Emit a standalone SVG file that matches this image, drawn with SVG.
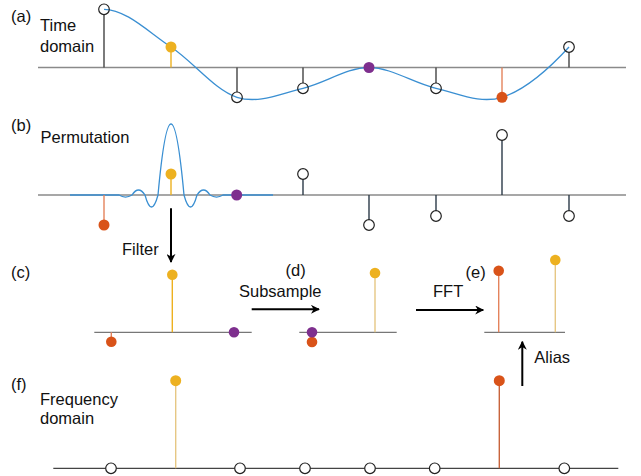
<svg xmlns="http://www.w3.org/2000/svg" width="641" height="476" viewBox="0 0 641 476">
<defs>
<marker id="ah" viewBox="0 0 10 10" refX="9" refY="5" markerWidth="4.5" markerHeight="4.5" orient="auto" markerUnits="strokeWidth">
<path d="M0,0 L10,5 L0,10 L3,5 Z" fill="#000"/>
</marker>
</defs>
<style>
text{font-family:"Liberation Sans",Arial,sans-serif;font-size:16.5px;fill:#111}
.axis{stroke:#8a8a8a;stroke-width:1.6;fill:none}
.axis2{stroke:#777;stroke-width:1.3;fill:none}
.axis3{stroke:#444;stroke-width:1.3;fill:none}
.stem{stroke:#444;stroke-width:1.4;fill:none}
.stemb{stroke:#2c3a48;stroke-width:1.4;fill:none}
.oc{fill:none;stroke:#222;stroke-width:1.2}
.curve{fill:none;stroke:#3a8fd2;stroke-width:1.3}
.y{fill:#EDB120}
.o{fill:#D95319}
.p{fill:#7E2F8E}
.ys{stroke:#EDB120;stroke-width:1.4}
.yl{stroke:#e6c784;stroke-width:1.4}
.os{stroke:#e4835c;stroke-width:1.4}
.os2{stroke:#c8643c;stroke-width:1.4}
.arr{stroke:#000;stroke-width:2;fill:none;marker-end:url(#ah)}
</style>

<g id="panel-a">
<text x="11" y="21.5">(a)</text>
<text x="40" y="30.7">Time</text>
<text x="40" y="52.3">domain</text>
<line class="axis" x1="38" y1="67.5" x2="626" y2="67.5"/>
<path class="curve" d="M104,9.3 C126,9.3 148.8,32.3 171,47 C193.2,61.7 215,90.4 237,97.3 C259,104.2 281,93.3 303,88.3 C325,83.3 346.8,67.5 369,67.5 C391.2,67.5 413.8,83.3 436,88.3 C458.2,93.3 479.8,104.2 502,97.3 C524.2,90.4 547,71 569,47"/>
<line class="stem" x1="104" y1="67.5" x2="104" y2="14.6"/>
<circle class="oc" cx="104" cy="9.3" r="5.3"/>
<line class="ys" x1="171" y1="67.5" x2="171" y2="47"/>
<circle class="y" cx="171" cy="47" r="5.5"/>
<line class="stem" x1="237" y1="67.5" x2="237" y2="92"/>
<circle class="oc" cx="237" cy="97.3" r="5.3"/>
<line class="stem" x1="303" y1="67.5" x2="303" y2="83"/>
<circle class="oc" cx="303" cy="88.3" r="5.3"/>
<circle class="p" cx="369" cy="67.5" r="5.5"/>
<line class="stem" x1="436" y1="67.5" x2="436" y2="83"/>
<circle class="oc" cx="436" cy="88.3" r="5.3"/>
<line class="os" x1="502" y1="67.5" x2="502" y2="97.3"/>
<circle class="o" cx="502" cy="97.3" r="5.5"/>
<line class="stem" x1="569" y1="67.5" x2="569" y2="52.3"/>
<circle class="oc" cx="569" cy="47" r="5.3"/>
</g>

<g id="panel-b">
<text x="11" y="131">(b)</text>
<text x="40.5" y="143.3">Permutation</text>
<line class="axis" x1="38" y1="195" x2="626" y2="195"/>
<path class="curve" d="M70,195 L119,195 C123.3,197.7 127.7,197.7 132,195 C136.3,188.3 140.7,188.3 145,195 C149.3,211 153.7,211 158,195 C166.7,100.3 175.3,100.3 184,195 C188.3,211 192.7,211 197,195 C201.3,188.3 205.7,188.3 210,195 C214.3,197.7 218.7,197.7 223,195 L273,195"/>
<line class="os" x1="104" y1="195" x2="104" y2="225"/>
<circle class="o" cx="104" cy="225" r="5.5"/>
<line class="ys" x1="171" y1="195" x2="171" y2="174"/>
<circle class="y" cx="171" cy="174" r="5.5"/>
<circle class="p" cx="236.7" cy="195" r="5.5"/>
<line class="stemb" x1="303" y1="195" x2="303" y2="179.3"/>
<circle class="oc" cx="303" cy="174" r="5.3"/>
<line class="stemb" x1="369" y1="195" x2="369" y2="219.7"/>
<circle class="oc" cx="369" cy="225" r="5.3"/>
<line class="stemb" x1="436" y1="195" x2="436" y2="210.7"/>
<circle class="oc" cx="436" cy="216" r="5.3"/>
<line class="stemb" x1="502" y1="195" x2="502" y2="140.3"/>
<circle class="oc" cx="502" cy="135" r="5.3"/>
<line class="stemb" x1="569" y1="195" x2="569" y2="210.7"/>
<circle class="oc" cx="569" cy="216" r="5.3"/>
</g>

<g id="panel-c">
<text x="11" y="277.5">(c)</text>
<line class="axis2" x1="94.3" y1="332.3" x2="251.7" y2="332.3"/>
<line class="os" x1="111.3" y1="332.3" x2="111.3" y2="341.7"/>
<circle class="o" cx="111.3" cy="341.7" r="5.3"/>
<line class="ys" x1="172.3" y1="332.3" x2="172.3" y2="274.7"/>
<circle class="y" cx="172.3" cy="274.7" r="5.3"/>
<circle class="p" cx="234" cy="332.3" r="5.3"/>
</g>

<g id="panel-d">
<text x="285.5" y="276">(d)</text>
<line class="axis2" x1="299.3" y1="332.3" x2="396.7" y2="332.3"/>
<circle class="o" cx="312" cy="342" r="5.3"/>
<circle class="p" cx="312" cy="332.3" r="5.3"/>
<line class="yl" x1="375" y1="332.3" x2="375" y2="273"/>
<circle class="y" cx="375" cy="273" r="5.3"/>
</g>

<g id="panel-e">
<text x="465.5" y="278">(e)</text>
<line class="axis2" x1="484.3" y1="332.3" x2="565" y2="332.3"/>
<line class="os" x1="498.7" y1="332.3" x2="498.7" y2="270.7"/>
<circle class="o" cx="498.7" cy="270.7" r="5.3"/>
<line class="yl" x1="555.3" y1="332.3" x2="555.3" y2="260"/>
<circle class="y" cx="555.3" cy="260" r="5.3"/>
</g>

<g id="panel-f">
<text x="11" y="390">(f)</text>
<text x="40" y="405">Frequency</text>
<text x="40" y="424">domain</text>
<line class="axis3" x1="53.3" y1="468.3" x2="618.3" y2="468.3"/>
<line class="yl" x1="175.7" y1="468.3" x2="175.7" y2="380.7"/>
<circle class="y" cx="175.7" cy="380.7" r="5.5"/>
<line class="os2" x1="499.3" y1="468.3" x2="499.3" y2="380.7"/>
<circle class="o" cx="499.3" cy="380.7" r="5.5"/>
<circle class="oc" cx="111" cy="468.3" r="5.3" fill="#fff" style="fill:#fff"/>
<circle class="oc" cx="240" cy="468.3" r="5.3" style="fill:#fff"/>
<circle class="oc" cx="305" cy="468.3" r="5.3" style="fill:#fff"/>
<circle class="oc" cx="370" cy="468.3" r="5.3" style="fill:#fff"/>
<circle class="oc" cx="434.7" cy="468.3" r="5.3" style="fill:#fff"/>
<circle class="oc" cx="564.3" cy="468.3" r="5.3" style="fill:#fff"/>
</g>

<g id="connectors">
<line class="arr" x1="171" y1="208.3" x2="171" y2="262"/>
<text x="122" y="255">Filter</text>
<line class="arr" x1="251.7" y1="309.3" x2="319" y2="309.3"/>
<text x="239" y="296.7">Subsample</text>
<line class="arr" x1="416" y1="310" x2="483.3" y2="310"/>
<text x="433" y="297.3">FFT</text>
<line class="arr" x1="522.3" y1="386" x2="522.3" y2="341.7"/>
<text x="534.3" y="363.3">Alias</text>
</g>
</svg>
